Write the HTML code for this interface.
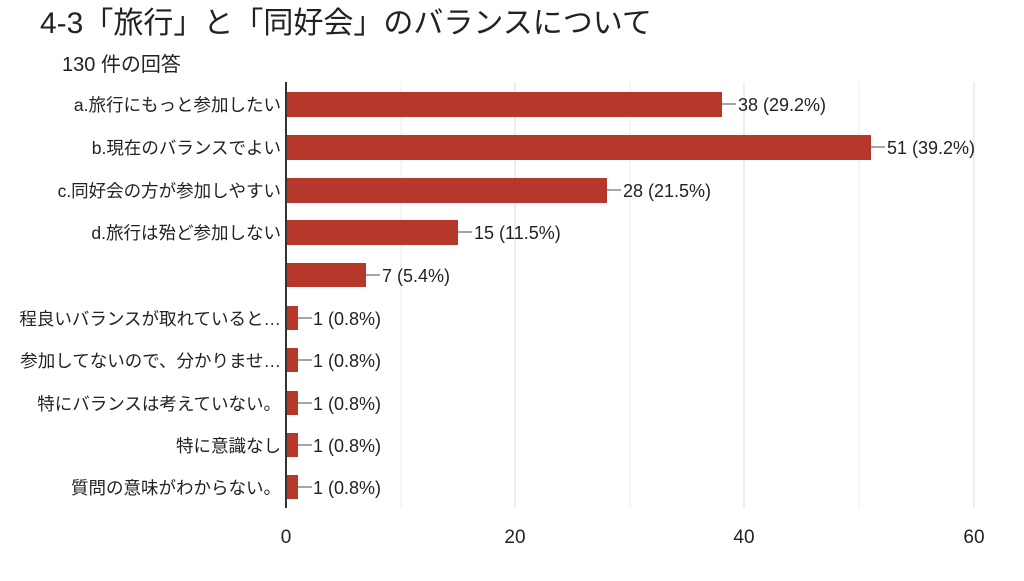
<!DOCTYPE html>
<html><head><meta charset="utf-8"><style>
body{margin:0;background:#fff;}
svg text{font-family:"Liberation Sans","Noto Sans CJK JP",sans-serif;fill:#222;}
</style></head><body>
<svg width="1024" height="576" xmlns="http://www.w3.org/2000/svg">
<rect width="1024" height="576" fill="#fff"/>
<text x="40" y="33" font-size="30">4-3「旅行」と「同好会」のバランスについて</text>
<text x="62" y="71" font-size="20">130 件の回答</text>
<g stroke="#eeeeee" stroke-width="1">
<line x1="401" y1="82" x2="401" y2="508"/><line x1="630" y1="82" x2="630" y2="508"/><line x1="859" y1="82" x2="859" y2="508"/>
</g>
<g stroke="#dcdcdc" stroke-width="1">
<line x1="515" y1="82" x2="515" y2="508"/><line x1="744" y1="82" x2="744" y2="508"/><line x1="974" y1="82" x2="974" y2="508"/>
</g>
<g fill="#b5382b">
<rect x="287" y="92" width="435" height="25"/>
<rect x="287" y="135" width="584" height="25"/>
<rect x="287" y="178" width="320" height="25"/>
<rect x="287" y="220" width="171" height="25"/>
<rect x="287" y="263" width="79" height="24"/>
<rect x="287" y="306" width="11" height="24"/>
<rect x="287" y="348" width="11" height="24"/>
<rect x="287" y="391" width="11" height="24"/>
<rect x="287" y="433" width="11" height="24"/>
<rect x="287" y="475" width="11" height="24"/>
</g>
<g stroke="#888" stroke-width="1.5">
<line x1="722" y1="104" x2="736" y2="104"/><line x1="871" y1="147" x2="885" y2="147"/>
<line x1="607" y1="190" x2="621" y2="190"/><line x1="458" y1="232" x2="472" y2="232"/>
<line x1="366" y1="275" x2="380" y2="275"/><line x1="298" y1="318" x2="312" y2="318"/>
<line x1="298" y1="360" x2="312" y2="360"/><line x1="298" y1="403" x2="312" y2="403"/>
<line x1="298" y1="445" x2="312" y2="445"/><line x1="298" y1="487" x2="312" y2="487"/>
</g>
<g font-size="18">
<text x="738" y="111">38 (29.2%)</text>
<text x="887" y="154">51 (39.2%)</text>
<text x="623" y="197">28 (21.5%)</text>
<text x="474" y="239">15 (11.5%)</text>
<text x="382" y="282">7 (5.4%)</text>
<text x="313" y="325">1 (0.8%)</text>
<text x="313" y="367">1 (0.8%)</text>
<text x="313" y="410">1 (0.8%)</text>
<text x="313" y="452">1 (0.8%)</text>
<text x="313" y="494">1 (0.8%)</text>
</g>
<g font-size="17.5" text-anchor="end">
<text x="281" y="111">a.旅行にもっと参加したい</text>
<text x="281" y="154">b.現在のバランスでよい</text>
<text x="281" y="197">c.同好会の方が参加しやすい</text>
<text x="281" y="239">d.旅行は殆ど参加しない</text>
<text x="281" y="325">程良いバランスが取れていると…</text>
<text x="281" y="367">参加してないので、分かりませ…</text>
<text x="281" y="410">特にバランスは考えていない。</text>
<text x="281" y="452">特に意識なし</text>
<text x="281" y="494">質問の意味がわからない。</text>
</g>
<line x1="286" y1="82" x2="286" y2="508" stroke="#333" stroke-width="2"/>
<g font-size="19" text-anchor="middle" fill="#444">
<text x="286" y="543">0</text><text x="515" y="543">20</text><text x="744" y="543">40</text><text x="974" y="543">60</text>
</g>
</svg>
</body></html>
